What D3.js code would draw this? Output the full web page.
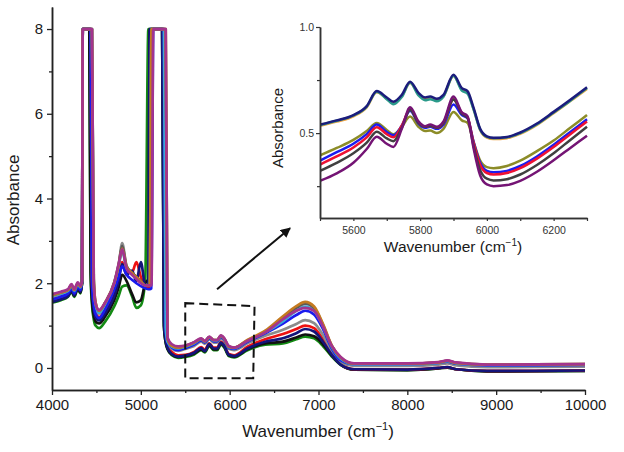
<!DOCTYPE html>
<html>
<head>
<meta charset="utf-8">
<script src="https://cdn.jsdelivr.net/npm/d3@7"></script>
<style>
  body { margin: 0; background: #fff; }
  svg { font-family: "Liberation Sans", Arial, sans-serif; }
</style>
</head>
<body>
<svg id="vis" width="624" height="452"></svg>
<script>
// main spectrum: shared wavenumber grid (cm-1)
const wavenumber = [4000, 4100, 4180, 4220, 4250, 4290, 4320, 4338,
  4346, 4420, 4435, 4450, 4470, 4490, 4530,
  4600, 4700, 4750, 4790, 4840, 4900, 4950, 5000, 5050,
  5085, 5100, 5120, 5140, 5220, 5240, 5260, 5280, 5300,
  5350, 5420, 5500, 5600, 5680, 5720, 5770, 5820, 5860, 5900, 5940, 5990, 6050,
  6200, 6400, 6600, 6750, 6850, 6950, 7050, 7150, 7250,
  7400, 8000, 8350, 8450, 8550, 8900, 10000]

// absorbance per sample (values above 8 are off scale)
const absGreen = [1.54, 1.60, 1.68, 1.80, 1.68, 1.86, 1.76, 2.0,
  8, 8, 2.2, 1.5, 1.15, 1.0, 0.94,
  1.10, 1.45, 1.70, 1.92, 1.95, 1.70, 1.42, 1.48, 2.10,
  8, 8, 8, 8, 8, 8, 1.0, 0.6, 0.45,
  0.30, 0.24, 0.26, 0.32, 0.42, 0.37, 0.52, 0.42, 0.42, 0.55, 0.48, 0.28, 0.25,
  0.42, 0.55, 0.58, 0.68, 0.74, 0.70, 0.52, 0.27, 0.07,
  -0.04, -0.05, -0.01, 0.01, -0.03, -0.08, -0.07]
const absBlack = [1.56, 1.62, 1.70, 1.82, 1.70, 1.88, 1.78, 2.0,
  8, 8, 2.3, 1.6, 1.25, 1.1, 1.05,
  1.22, 1.60, 1.90, 2.20, 2.05, 1.75, 1.55, 1.60, 2.00,
  2.1, 8, 8, 8, 8, 8, 1.0, 0.6, 0.45,
  0.32, 0.26, 0.28, 0.34, 0.44, 0.39, 0.54, 0.44, 0.44, 0.57, 0.50, 0.30, 0.27,
  0.44, 0.58, 0.62, 0.72, 0.79, 0.75, 0.56, 0.29, 0.08,
  -0.04, -0.05, -0.01, 0.01, -0.03, -0.08, -0.07]
const absRed = [1.62, 1.68, 1.76, 1.88, 1.76, 1.92, 1.84, 2.05,
  8, 8, 8, 2.0, 1.5, 1.3, 1.2,
  1.38, 1.80, 2.15, 2.50, 2.25, 2.25, 2.50, 2.15, 1.92,
  1.90, 1.95, 8, 8, 8, 8, 8, 0.8, 0.55,
  0.38, 0.30, 0.31, 0.38, 0.49, 0.43, 0.58, 0.48, 0.48, 0.62, 0.54, 0.33, 0.30,
  0.50, 0.68, 0.80, 0.92, 1.00, 0.94, 0.68, 0.34, 0.09,
  -0.03, -0.04, 0.0, 0.02, -0.03, -0.07, -0.06]
const absGray = [1.68, 1.74, 1.80, 1.92, 1.80, 1.96, 1.88, 2.05,
  8, 8, 8, 2.2, 1.6, 1.38, 1.28,
  1.48, 1.95, 2.40, 2.95, 2.40, 2.25, 2.15, 2.05, 1.95,
  1.95, 1.95, 8, 8, 8, 8, 8, 0.9, 0.6,
  0.45, 0.40, 0.45, 0.52, 0.62, 0.57, 0.68, 0.60, 0.60, 0.70, 0.64, 0.45, 0.42,
  0.58, 0.76, 0.90, 1.04, 1.13, 1.06, 0.78, 0.40, 0.12,
  0.05, 0.05, 0.08, 0.11, 0.06, 0.02, 0.03]
const absNavy = [1.56, 1.62, 1.70, 1.84, 1.72, 1.90, 1.80, 2.0,
  8, 8, 8, 1.9, 1.4, 1.2, 1.12,
  1.30, 1.70, 2.05, 2.45, 2.20, 2.30, 2.05, 2.50, 1.95,
  1.95, 8, 8, 8, 8, 8, 1.1, 0.65, 0.48,
  0.33, 0.27, 0.29, 0.36, 0.47, 0.40, 0.57, 0.46, 0.46, 0.60, 0.52, 0.31, 0.28,
  0.46, 0.62, 0.70, 0.82, 0.92, 0.86, 0.62, 0.31, 0.08,
  -0.03, -0.04, 0.0, 0.02, -0.03, -0.07, -0.06]
const absBlue = [1.62, 1.68, 1.76, 1.88, 1.76, 1.92, 1.84, 2.05,
  8, 8, 8, 2.0, 1.5, 1.28, 1.18,
  1.40, 1.85, 2.15, 2.40, 2.20, 2.08, 2.00, 1.93, 1.88,
  1.86, 1.86, 1.88, 8, 8, 8, 8, 0.9, 0.6,
  0.48, 0.42, 0.47, 0.55, 0.65, 0.60, 0.70, 0.63, 0.63, 0.73, 0.66, 0.47, 0.45,
  0.62, 0.82, 1.05, 1.25, 1.35, 1.26, 0.92, 0.46, 0.18,
  0.09, 0.09, 0.12, 0.15, 0.10, 0.06, 0.07]
const absCyan = [1.70, 1.76, 1.82, 1.94, 1.82, 1.98, 1.90, 2.05,
  8, 8, 8, 8, 2.0, 1.5, 1.30,
  1.52, 2.0, 2.40, 2.75, 2.35, 2.22, 2.12, 2.02, 1.95,
  1.95, 1.95, 8, 8, 8, 8, 8, 0.95, 0.62,
  0.50, 0.46, 0.50, 0.58, 0.68, 0.62, 0.72, 0.65, 0.65, 0.75, 0.68, 0.49, 0.47,
  0.64, 0.84, 1.10, 1.35, 1.45, 1.35, 0.98, 0.50, 0.22,
  0.09, 0.09, 0.12, 0.16, 0.11, 0.07, 0.08]
const absDarkGray = [1.72, 1.78, 1.84, 1.96, 1.84, 2.00, 1.92, 2.05,
  8, 8, 8, 8, 2.1, 1.55, 1.35,
  1.55, 2.02, 2.45, 2.88, 2.40, 2.25, 2.15, 2.05, 1.95,
  1.95, 1.95, 8, 8, 8, 8, 8, 8, 0.7,
  0.52, 0.48, 0.52, 0.60, 0.69, 0.63, 0.73, 0.66, 0.66, 0.76, 0.69, 0.50, 0.48,
  0.65, 0.86, 1.18, 1.42, 1.52, 1.42, 1.02, 0.52, 0.24,
  0.10, 0.10, 0.13, 0.17, 0.12, 0.08, 0.09]
const absOrange = [1.72, 1.78, 1.84, 1.96, 1.84, 2.00, 1.92, 2.05,
  8, 8, 8, 8, 2.1, 1.55, 1.35,
  1.55, 2.0, 2.42, 2.82, 2.38, 2.24, 2.14, 2.04, 1.95,
  1.95, 1.95, 8, 8, 8, 8, 8, 8, 0.7,
  0.52, 0.48, 0.52, 0.60, 0.69, 0.63, 0.73, 0.66, 0.66, 0.76, 0.69, 0.50, 0.48,
  0.66, 0.88, 1.22, 1.46, 1.56, 1.45, 1.04, 0.53, 0.25,
  0.10, 0.10, 0.13, 0.17, 0.12, 0.08, 0.09]
const absPurple = [1.74, 1.80, 1.86, 1.98, 1.86, 2.02, 1.94, 2.05,
  8, 8, 8, 8, 2.0, 1.52, 1.37,
  1.55, 2.0, 2.45, 2.80, 2.35, 2.20, 2.10, 2.00, 1.95,
  1.95, 1.95, 1.95, 8, 8, 8, 8, 8, 0.72,
  0.56, 0.51, 0.53, 0.61, 0.70, 0.64, 0.74, 0.66, 0.66, 0.77, 0.70, 0.52, 0.48,
  0.64, 0.84, 1.15, 1.35, 1.42, 1.35, 0.98, 0.52, 0.26,
  0.11, 0.11, 0.14, 0.18, 0.13, 0.08, 0.09]

// inset (zoomed 5500-6300 region)
const insetWavenumber = [5500, 5550, 5600, 5640, 5670, 5700, 5720, 5745, 5770, 5795, 5815, 5830,
  5850, 5870, 5900, 5925, 5942, 5960, 5980, 6000, 6020, 6060, 6100, 6150, 6200, 6250, 6300]
const inOrange = [0.534, 0.554, 0.579, 0.621, 0.692, 0.662, 0.642, 0.674, 0.736, 0.684, 0.662, 0.666,
  0.656, 0.674, 0.769, 0.706, 0.692, 0.614, 0.514, 0.479, 0.472, 0.476, 0.497, 0.539, 0.594, 0.651, 0.708]
const inTeal = [0.538, 0.558, 0.583, 0.625, 0.695, 0.660, 0.636, 0.670, 0.738, 0.678, 0.655, 0.660,
  0.650, 0.672, 0.770, 0.700, 0.686, 0.612, 0.516, 0.482, 0.476, 0.480, 0.500, 0.542, 0.597, 0.653, 0.712]
const inNavy = [0.540, 0.560, 0.585, 0.627, 0.698, 0.668, 0.648, 0.680, 0.742, 0.690, 0.668, 0.672,
  0.662, 0.680, 0.775, 0.712, 0.698, 0.620, 0.520, 0.485, 0.478, 0.482, 0.503, 0.545, 0.600, 0.657, 0.716]
const inOlive = [0.395, 0.430, 0.468, 0.510, 0.548, 0.515, 0.495, 0.530, 0.578, 0.530, 0.510, 0.512,
  0.500, 0.520, 0.600, 0.560, 0.548, 0.460, 0.370, 0.340, 0.335, 0.345, 0.370, 0.415, 0.465, 0.525, 0.585]
const inBlue = [0.370, 0.410, 0.450, 0.495, 0.540, 0.505, 0.490, 0.535, 0.605, 0.545, 0.525, 0.530,
  0.520, 0.540, 0.635, 0.585, 0.570, 0.460, 0.360, 0.322, 0.315, 0.322, 0.345, 0.390, 0.445, 0.505, 0.565]
const inRed = [0.352, 0.390, 0.432, 0.480, 0.528, 0.495, 0.480, 0.535, 0.612, 0.550, 0.530, 0.535,
  0.525, 0.548, 0.660, 0.595, 0.575, 0.455, 0.350, 0.312, 0.305, 0.312, 0.335, 0.380, 0.435, 0.495, 0.555]
const inDarkGray = [0.322, 0.360, 0.405, 0.455, 0.507, 0.475, 0.462, 0.525, 0.610, 0.548, 0.530, 0.535,
  0.525, 0.548, 0.658, 0.592, 0.572, 0.440, 0.325, 0.285, 0.277, 0.283, 0.305, 0.350, 0.405, 0.468, 0.530]
const inPurple = [0.275, 0.310, 0.360, 0.425, 0.483, 0.450, 0.435, 0.520, 0.622, 0.555, 0.532, 0.540,
  0.530, 0.555, 0.672, 0.598, 0.580, 0.430, 0.300, 0.258, 0.250, 0.255, 0.275, 0.318, 0.372, 0.430, 0.488]

const mainSeries = [
  { values: absGreen, color: "#138a13" },
  { values: absBlack, color: "#111111" },
  { values: absRed, color: "#ee1111" },
  { values: absGray, color: "#8c8c8c" },
  { values: absNavy, color: "#14147a" },
  { values: absBlue, color: "#1a1aee" },
  { values: absCyan, color: "#3aa8d8" },
  { values: absDarkGray, color: "#5a5a5a" },
  { values: absOrange, color: "#c47a20" },
  { values: absPurple, color: "#a3348e" }
]
const insetSeries = [
  { values: inOrange, color: "#f0a040" },
  { values: inTeal, color: "#2a9a8a" },
  { values: inNavy, color: "#1c1c7c" },
  { values: inOlive, color: "#8c8c28" },
  { values: inBlue, color: "#1c1cf0" },
  { values: inRed, color: "#ee1133" },
  { values: inDarkGray, color: "#404040" },
  { values: inPurple, color: "#741474" }
]

const vis = d3.select("#vis")

// ---------- main chart ----------
const x = d3.scaleLinear().domain([4000, 10000]).range([52, 585])
const y = d3.scaleLinear().domain([-0.52, 8.52]).range([390, 7])

vis.append("clipPath").attr("id", "clipMain")
  .append("rect").attr("x", 52).attr("y", 7).attr("width", 533).attr("height", 383)

const line = d3.line()
  .x(d => x(d[0])).y(d => y(d[1]))
  .curve(d3.curveMonotoneX)

vis.append("g").attr("clip-path", "url(#clipMain)")
  .selectAll("path")
  .data(mainSeries)
  .enter()
  .append("path")
  .attr("d", s => line(wavenumber.map((w, i) => [w, s.values[i]])))
  .attr("fill", "none")
  .attr("stroke", s => s.color)
  .attr("stroke-width", 2.7)
  .attr("stroke-linejoin", "round")

// axes
const xMinor = d3.axisBottom(x).tickValues(d3.range(4500, 10000, 1000)).tickSize(3).tickFormat("").tickSizeOuter(0)
const xMajor = d3.axisBottom(x).tickValues(d3.range(4000, 10001, 1000)).tickSize(5).tickPadding(4).tickSizeOuter(0).tickFormat(d3.format("d"))
const yMinor = d3.axisLeft(y).tickValues([1, 3, 5, 7]).tickSize(3).tickFormat("").tickSizeOuter(0)
const yMajor = d3.axisLeft(y).tickValues([0, 2, 4, 6, 8]).tickSize(5).tickPadding(4).tickSizeOuter(0)

vis.append("g").attr("transform", "translate(0,390)").call(xMinor)
const gx = vis.append("g").attr("transform", "translate(0,390)").call(xMajor)
vis.append("g").attr("transform", "translate(52,0)").call(yMinor)
const gy = vis.append("g").attr("transform", "translate(52,0)").call(yMajor)
gx.selectAll("text").attr("font-size", 15).attr("fill", "#1a1a1a")
gy.selectAll("text").attr("font-size", 15).attr("fill", "#1a1a1a")
vis.selectAll(".domain").attr("stroke", "#222").attr("stroke-width", 1.5)
vis.selectAll(".tick line").attr("stroke", "#222").attr("stroke-width", 1.3)

// axis titles
const xTitle = vis.append("text").attr("x", 318).attr("y", 437).attr("text-anchor", "middle")
  .attr("font-size", 17).attr("fill", "#1a1a1a")
xTitle.append("tspan").text("Wavenumber (cm")
xTitle.append("tspan").text("\u22121").attr("font-size", 11).attr("dy", -7)
xTitle.append("tspan").text(")").attr("dy", 7)

vis.append("text").attr("transform", "translate(19,200) rotate(-90)")
  .attr("text-anchor", "middle").attr("font-size", 17).attr("fill", "#1a1a1a")
  .text("Absorbance")

// dashed zoom box
const boxPts = [[5500, 1.53], [6280, 1.46], [6265, -0.24], [5500, -0.24]]
vis.append("path")
  .attr("d", "M" + boxPts.map(p => [x(p[0]), y(p[1])].join(",")).join("L") + "Z")
  .attr("fill", "none").attr("stroke", "#111").attr("stroke-width", 2)
  .attr("stroke-dasharray", "9,5")

// arrow to inset
vis.append("defs").append("marker")
  .attr("id", "head").attr("viewBox", "0 0 10 10").attr("refX", 9).attr("refY", 5)
  .attr("markerWidth", 5).attr("markerHeight", 5).attr("orient", "auto")
  .append("path").attr("d", "M0,0L10,5L0,10Z").attr("fill", "#111")
vis.append("line")
  .attr("x1", x(5858)).attr("y1", y(1.86)).attr("x2", x(6680)).attr("y2", y(3.3))
  .attr("stroke", "#111").attr("stroke-width", 2).attr("marker-end", "url(#head)")

// ---------- inset ----------
const xi = d3.scaleLinear().domain([5500, 6300]).range([320, 587])
const yi = d3.scaleLinear().domain([0.1, 1.0]).range([218, 27])

vis.append("clipPath").attr("id", "clipInset")
  .append("rect").attr("x", 320).attr("y", 27).attr("width", 268).attr("height", 191)

const lineIn = d3.line()
  .x(d => xi(d[0])).y(d => yi(d[1]))
  .curve(d3.curveMonotoneX)

vis.append("g").attr("clip-path", "url(#clipInset)")
  .selectAll("path")
  .data(insetSeries)
  .enter()
  .append("path")
  .attr("d", s => lineIn(insetWavenumber.map((w, i) => [w, s.values[i]])))
  .attr("fill", "none")
  .attr("stroke", s => s.color)
  .attr("stroke-width", 2.5)

const xiMinor = d3.axisBottom(xi).tickValues([5500, 5700, 5900, 6100, 6300]).tickSize(3).tickFormat("").tickSizeOuter(0)
const xiMajor = d3.axisBottom(xi).tickValues([5600, 5800, 6000, 6200]).tickSize(3).tickPadding(6).tickSizeOuter(0).tickFormat(d3.format("d"))
const yiMinor = d3.axisLeft(yi).tickValues([0.25, 0.75]).tickSize(3).tickFormat("").tickSizeOuter(0)
const yiMajor = d3.axisLeft(yi).tickValues([0.5, 1.0]).tickSize(4).tickPadding(2).tickSizeOuter(0).tickFormat(d3.format(".1f"))

const inset = vis.append("g")
inset.append("g").attr("transform", "translate(0,218)").call(xiMinor)
const gxi = inset.append("g").attr("transform", "translate(0,218)").call(xiMajor)
inset.append("g").attr("transform", "translate(320,0)").call(yiMinor)
const gyi = inset.append("g").attr("transform", "translate(320,0)").call(yiMajor)
gxi.selectAll("text").attr("font-size", 10.5).attr("fill", "#333")
gyi.selectAll("text").attr("font-size", 10.5).attr("fill", "#333")
inset.selectAll(".domain").attr("stroke", "#333").attr("stroke-width", 1.5)
inset.selectAll(".tick line").attr("stroke", "#333").attr("stroke-width", 1.2)

const xiTitle = inset.append("text").attr("x", 453).attr("y", 252).attr("text-anchor", "middle")
  .attr("font-size", 15.5).attr("fill", "#1a1a1a")
xiTitle.append("tspan").text("Wavenumber (cm")
xiTitle.append("tspan").text("\u22121").attr("font-size", 10).attr("dy", -6)
xiTitle.append("tspan").text(")").attr("dy", 6)

inset.append("text").attr("transform", "translate(283,128) rotate(-90)")
  .attr("text-anchor", "middle").attr("font-size", 15).attr("fill", "#1a1a1a")
  .text("Absorbance")
</script>
</body>
</html>
